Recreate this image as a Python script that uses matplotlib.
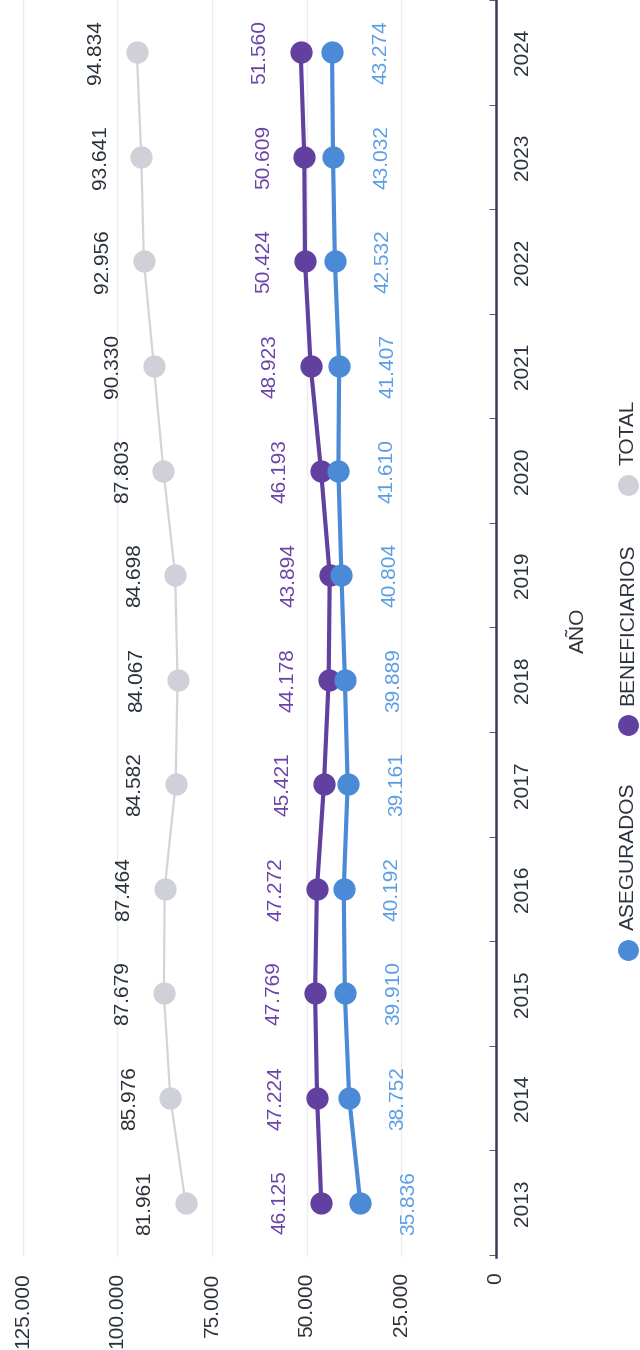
import matplotlib.pyplot as plt
from matplotlib.lines import Line2D
import numpy as np

plt.rcParams['font.family'] = ['Liberation Sans', 'DejaVu Sans']

years = [2013, 2014, 2015, 2016, 2017, 2018, 2019, 2020, 2021, 2022, 2023, 2024]
total = [81961, 85976, 87679, 87464, 84582, 84067, 84698, 87803, 90330, 92956, 93641, 94834]
beneficiarios = [46125, 47224, 47769, 47272, 45421, 44178, 43894, 46193, 48923, 50424, 50609, 51560]
asegurados = [35836, 38752, 39910, 40192, 39161, 39889, 40804, 41610, 41407, 42532, 43032, 43274]
value_ticks = [0, 25000, 50000, 75000, 100000, 125000]

dark = '#28303a'
c_total = '#cfd0d8'
c_benef = '#6240a0'
c_aseg = '#4a8ad6'

def fmt(v):
    return '{:,}'.format(v).replace(',', '.')

fig = plt.figure(figsize=(6.4, 13.5), dpi=100)
ax = fig.add_axes([22.5/640, 93/1350, (496-22.5)/640, 1257/1350])

# chart is drawn turned: values run right-to-left, years bottom-to-top
ax.plot(total, years, color='#d3d4da', lw=1.6, marker='o', ms=15, mfc=c_total, mec=c_total, zorder=3)
ax.plot(beneficiarios, years, color=c_benef, lw=3, marker='o', ms=15, zorder=4)
ax.plot(asegurados, years, color=c_aseg, lw=3, marker='o', ms=15, zorder=5)

for y, t, b, a in zip(years, total, beneficiarios, asegurados):
    ax.annotate(fmt(t), (t, y), xytext=(-29.5, 0), textcoords='offset points',
                rotation=90, ha='center', va='center', fontsize=15, color=dark)
    ax.annotate(fmt(b), (b, y), xytext=(-29.5, 0), textcoords='offset points',
                rotation=90, ha='center', va='center', fontsize=15, color='#6a42a8')
    ax.annotate(fmt(a), (a, y), xytext=(35, 0), textcoords='offset points',
                rotation=90, ha='center', va='center', fontsize=15, color='#5a9de4')

ax.set_xlim(125000, 0)
ax.set_ylim(2012.48, 2024.41)
ax.set_xticks(value_ticks)
ax.set_xticklabels([fmt(v) for v in value_ticks])
ax.set_yticks(years)
ax.set_yticks(np.arange(2012.5, 2025, 1), minor=True)
ax.yaxis.tick_right()

ax.tick_params(axis='x', length=0, pad=11, labelrotation=90, labelsize=15, labelcolor=dark)
ax.tick_params(axis='y', which='major', length=0, pad=12, labelrotation=90, labelsize=15, labelcolor=dark)
ax.tick_params(axis='y', which='minor', length=5, direction='in', color='#3b3b58')
for lab in ax.get_xticklabels():
    lab.set_va('top')
for lab in ax.get_yticklabels():
    lab.set_va('center')

ax.grid(axis='x', color='#ededed', lw=1)
ax.set_axisbelow(True)
for s in ['top', 'left', 'bottom']:
    ax.spines[s].set_visible(False)
ax.spines['right'].set_color('#3b3b58')
ax.spines['right'].set_linewidth(1.8)

fig.text(578/640, 1-630/1350, 'AÑO', rotation=90, ha='center', va='center', fontsize=15, color=dark)

# legend, turned like the chart
for name, col, yc in [('ASEGURADOS', c_aseg, 950), ('BENEFICIARIOS', c_benef, 725), ('TOTAL', c_total, 485)]:
    fig.add_artist(Line2D([628/640], [1-yc/1350], marker='o', ms=14, color=col, transform=fig.transFigure))
    fig.text(628/640, 1-(yc-20)/1350, name, rotation=90, ha='center', va='bottom', fontsize=15, color=dark)

plt.savefig('out.png', dpi=100)
